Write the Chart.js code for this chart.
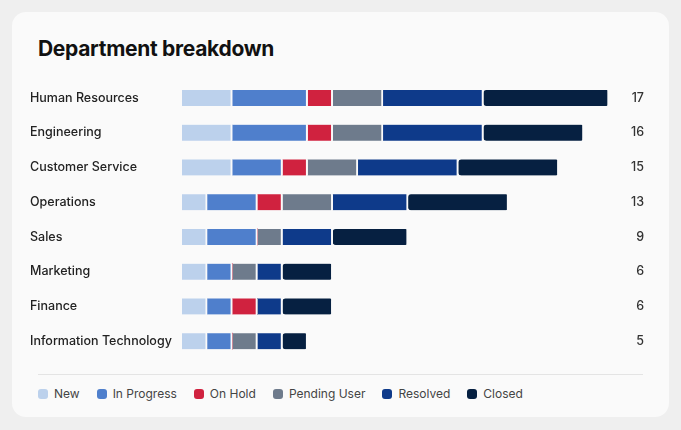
<!DOCTYPE html>
<html><head><meta charset="utf-8">
<script src="https://cdn.jsdelivr.net/npm/chart.js@4"></script>
<style>
body{margin:0;background:#efefef;font-family:Inter,"Noto Sans",sans-serif;}
#card{position:absolute;left:12px;top:12px;width:657px;height:405px;background:#fafafa;border-radius:14px;}
#title{position:absolute;left:38px;top:36px;font-size:21px;font-weight:700;color:#111;letter-spacing:-0.3px;}
#wrap{position:absolute;left:30px;top:70px;width:614px;height:299px;}
#sep{position:absolute;left:38px;top:374px;width:605px;height:1px;background:#e4e4e4;}
#legend{position:absolute;left:38px;top:386px;display:flex;gap:17px;font-size:12px;color:#444;}
#legend span{display:flex;align-items:center;gap:6px;}
#legend i{display:inline-block;width:10px;height:10px;border-radius:3px;}
</style></head><body>
<div id="card"></div>
<div id="title">Department breakdown</div>
<div id="wrap"><canvas id="c"></canvas></div>
<div id="sep"></div>
<div id="legend"></div>
<script>
const categories=["Human Resources","Engineering","Customer Service","Operations","Sales","Marketing","Finance","Information Technology"];
const seriesNames=["New","In Progress","On Hold","Pending User","Resolved","Closed"];
const colors=["#bcd1ec","#4f7fcc","#d0223f","#6e7b8c","#0e3a8a","#062041"];
const newV=[2,2,2,1,1,1,1,1];
const inProgress=[3,3,2,2,2,1,1,1];
const onHold=[1,1,1,1,0,0,1,0];
const pendingUser=[2,2,2,2,1,1,0,1];
const resolved=[4,4,4,3,2,1,1,1];
const closed=[5,4,4,4,3,2,2,1];
const values=[newV,inProgress,onHold,pendingUser,resolved,closed];
const totals=categories.map((_,i)=>values.reduce((s,a)=>s+a[i],0));
const lg=document.getElementById('legend');
seriesNames.forEach((n,i)=>{lg.innerHTML+=`<span><i style="background:${colors[i]}"></i>${n}</span>`;});
new Chart(document.getElementById('c'),{type:'bar',
data:{labels:categories,datasets:seriesNames.map((n,i)=>({label:n,data:values[i],backgroundColor:colors[i],borderColor:'#fafafa',borderWidth:{right:2,left:0,top:0,bottom:0},borderSkipped:false,borderRadius:3,barThickness:16,yAxisID:'y'}))},
options:{indexAxis:'y',responsive:true,maintainAspectRatio:false,animation:false,
layout:{padding:0},
plugins:{legend:{display:false},tooltip:{enabled:false}},
scales:{
x:{stacked:true,display:false,min:0,max:17},
y:{stacked:true,grid:{display:false},border:{display:false},afterFit:s=>{s.width=152;},
ticks:{crossAlign:'far',color:'#222',font:{family:'Inter',size:12.5,weight:'500'}}},
y2:{type:'category',position:'right',labels:totals.map(String),offset:true,grid:{display:false},border:{display:false},afterFit:s=>{s.width=35;},
ticks:{crossAlign:'far',color:'#333',font:{family:'Inter',size:12.5,weight:'500'}}}
}}});
</script></body></html>
